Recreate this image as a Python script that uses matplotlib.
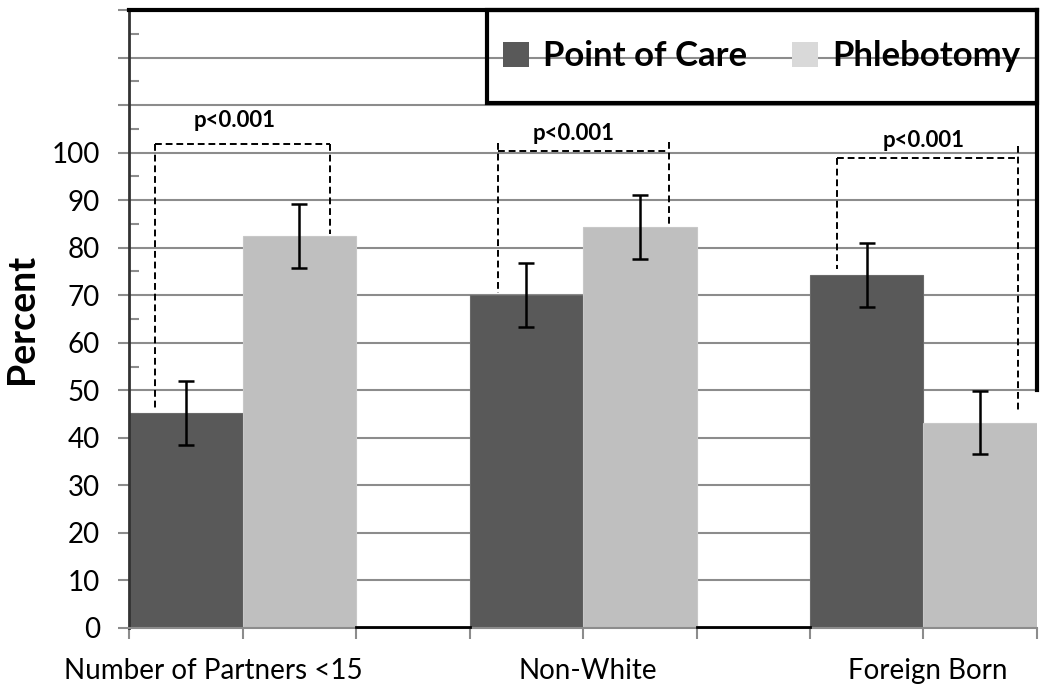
import matplotlib
matplotlib.use("Agg")
import matplotlib.pyplot as plt
from matplotlib.patches import Patch, Rectangle
import numpy as np

plt.rcParams['font.family'] = ['Lato', 'DejaVu Sans']

categories = ["Number of Partners <15", "Non-White", "Foreign Born"]
series = ["Point of Care", "Phlebotomy"]
poc = [45.2, 70.1, 74.3]
phleb = [82.4, 84.3, 43.2]
poc_err = [6.7, 6.7, 6.7]
phleb_err = [6.7, 6.7, 6.7]
pvals = ["p<0.001", "p<0.001", "p<0.001"]
y_ticks = [0, 10, 20, 30, 40, 50, 60, 70, 80, 90, 100]

c_poc = "#595959"
c_phl = "#bfbfbf"
grid_c = "#8c8c8c"

fig = plt.figure(figsize=(10.5, 6.91), dpi=100)
ax = fig.add_axes([0.1229, 0.0912, 0.8647, 0.8943])

group_start = np.array([0, 3, 6])
x_poc = group_start + 0.5
x_phl = group_start + 1.5

ax.set_xlim(0, 8)
ax.set_ylim(0, 130)

# grid
for g in range(10, 130, 10):
    ax.axhline(g, color=grid_c, lw=1.5, zorder=0)

ax.bar(x_poc, poc, width=1.0, color=c_poc, edgecolor="#6a6a6a", lw=0.8, zorder=2)
ax.bar(x_phl, phleb, width=1.0, color=c_phl, edgecolor="#c8c8c8", lw=0.8, zorder=2)
ax.errorbar(x_poc, poc, yerr=poc_err, fmt="none", ecolor="black", elinewidth=1.8,
            capsize=5.5, capthick=1.8, zorder=4)
ax.errorbar(x_phl, phleb, yerr=phleb_err, fmt="none", ecolor="black", elinewidth=1.8,
            capsize=5.5, capthick=1.8, zorder=4)

# significance brackets
brackets = [
    # left x, right x, left top, left bottom, right top, right bottom, horiz y, text x, text y
    (0.23, 1.77, 101.9, 45.6, 101.9, 82.9, 101.9, 0.93, 106.8),
    (3.25, 4.76, 102.1, 70.4, 102.2, 84.9, 100.4, 3.92, 104.0),
    (6.24, 7.83, 98.9, 75.5, 101.3, 45.3, 98.9, 7.00, 102.6),
]
dash = dict(color="black", lw=1.4, ls=(0, (3.5, 2)), zorder=3)
for (xl, xr, lt, lb, rt, rb, hy, tx, ty), p in zip(brackets, pvals):
    ax.plot([xl, xl], [lt, lb], **dash)
    ax.plot([xr, xr], [rt, rb], **dash)
    ax.plot([xl, xr], [hy, hy], **dash)
    ax.text(tx, ty, p, ha="center", va="center", fontsize=16, fontweight="bold")

# spines
ax.spines["top"].set_color("black")
ax.spines["top"].set_linewidth(3)
ax.spines["left"].set_color("#333333")
ax.spines["left"].set_linewidth(2)
ax.spines["bottom"].set_color(grid_c)
ax.spines["bottom"].set_linewidth(1.5)
ax.spines["right"].set_color("black")
ax.spines["right"].set_linewidth(3)
ax.spines["right"].set_bounds(50, 130)
for gs in group_start[:-1]:
    ax.plot([gs + 2, gs + 3], [0.25, 0.25], color="black", lw=2, zorder=3, clip_on=False)

# ticks
ax.set_yticks(list(range(0, 131, 10)))
ax.set_yticklabels([str(v) if v in y_ticks else "" for v in range(0, 131, 10)])
ax.set_yticks(list(range(5, 130, 10)), minor=True)
ax.tick_params(axis="y", which="major", direction="out", length=8, width=1.5,
               color=grid_c, labelsize=20, pad=13)
ax.tick_params(axis="y", which="minor", direction="in", length=7, width=1.5, color=grid_c)
ax.set_xticks(range(0, 9))
ax.set_xticklabels([])
ax.tick_params(axis="x", which="major", direction="out", length=8, width=1.5, color=grid_c)

label_x = [0.74, 4.04, 7.04]
for lx, c in zip(label_x, categories):
    ax.text(lx, -9, c, ha="center", va="center", fontsize=20)

fig.text(22 / 1050, 1 - 319 / 691, "Percent", rotation=90, ha="center", va="center",
         fontsize=27, fontweight="bold")

# legend box
leg_x0 = 0.394
leg_y0 = 110.5 / 130
ax.add_patch(Rectangle((leg_x0, leg_y0), 1 - leg_x0, 1 - leg_y0, transform=ax.transAxes,
                       fill=False, edgecolor="black", lw=3, zorder=5, clip_on=False))
handles = [Patch(facecolor=c_poc, edgecolor="none"), Patch(facecolor="#d9d9d9", edgecolor="none")]
leg = ax.legend(handles, series, loc="center", bbox_to_anchor=(leg_x0 + (1 - leg_x0) / 2, (leg_y0 + 1) / 2),
                bbox_transform=ax.transAxes, ncol=2, frameon=False,
                prop=dict(size=25, weight="bold"), handlelength=0.75, handleheight=0.75,
                handletextpad=0.4, columnspacing=1.3)

fig.savefig("out.png", dpi=100)
